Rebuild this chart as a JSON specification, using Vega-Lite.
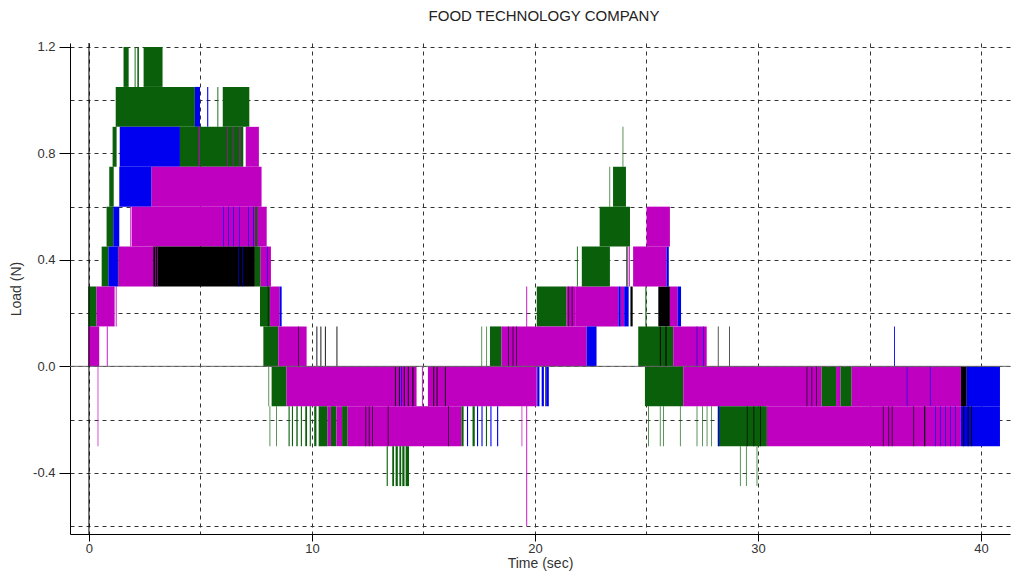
{
  "$schema": "https://vega.github.io/schema/vega-lite/v6.json",
  "width": 940,
  "height": 491,
  "autosize": {"type": "none"},
  "padding": {"left": 70, "top": 43, "right": 2, "bottom": 41},
  "title": {"text": "FOOD TECHNOLOGY COMPANY", "font": "Liberation Sans", "fontSize": 15, "fontWeight": "normal", "color": "#222", "anchor": "middle", "offset": 17, "dx": 4},
  "config": {
    "view": {"stroke": null},
    "axis": {"labelFont": "Liberation Sans", "labelFontSize": 13, "labelColor": "#333", "titleFont": "Liberation Sans", "titleFontSize": 14, "titleFontWeight": "normal", "titleColor": "#333", "domainColor": "#000", "tickColor": "#000", "gridColor": "#333", "gridDash": [4, 4], "gridOpacity": 1, "gridWidth": 1}
  },
  "datasets": {
    "bands": [
      {"s":"G","t0":1.55,"t1":1.78,"lo":1.05,"hi":1.2},
      {"s":"G","t0":2.05,"t1":2.09,"lo":1.05,"hi":1.2},
      {"s":"G","t0":2.17,"t1":2.24,"lo":1.05,"hi":1.2},
      {"s":"G","t0":2.45,"t1":3.3,"lo":1.05,"hi":1.2},
      {"s":"G","t0":1.2,"t1":4.75,"lo":0.9,"hi":1.05},
      {"s":"B","t0":4.75,"t1":4.98,"lo":0.9,"hi":1.05},
      {"s":"B","t0":5.3,"t1":5.35,"lo":0.9,"hi":1.05},
      {"s":"G","t0":5.76,"t1":5.8,"lo":0.9,"hi":1.05},
      {"s":"G","t0":6.0,"t1":7.19,"lo":0.9,"hi":1.05},
      {"s":"G","t0":1.06,"t1":1.24,"lo":0.75,"hi":0.9},
      {"s":"B","t0":1.38,"t1":4.08,"lo":0.75,"hi":0.9},
      {"s":"G","t0":4.08,"t1":6.92,"lo":0.75,"hi":0.9},
      {"s":"M","t0":7.03,"t1":7.62,"lo":0.75,"hi":0.9},
      {"s":"M","t0":4.92,"t1":4.97,"lo":0.75,"hi":0.9},
      {"s":"M","t0":6.2,"t1":6.23,"lo":0.75,"hi":0.9},
      {"s":"M","t0":6.45,"t1":6.48,"lo":0.75,"hi":0.9},
      {"s":"M","t0":6.75,"t1":6.79,"lo":0.75,"hi":0.9},
      {"s":"G","t0":0.91,"t1":1.11,"lo":0.6,"hi":0.75},
      {"s":"B","t0":1.36,"t1":2.81,"lo":0.6,"hi":0.75},
      {"s":"M","t0":2.81,"t1":7.74,"lo":0.6,"hi":0.75},
      {"s":"G","t0":0.79,"t1":1.09,"lo":0.45,"hi":0.6},
      {"s":"B","t0":1.09,"t1":1.36,"lo":0.45,"hi":0.6},
      {"s":"M","t0":1.85,"t1":1.88,"lo":0.45,"hi":0.6},
      {"s":"M","t0":1.91,"t1":7.97,"lo":0.45,"hi":0.6},
      {"s":"B","t0":6.02,"t1":6.05,"lo":0.45,"hi":0.6},
      {"s":"B","t0":6.24,"t1":6.27,"lo":0.45,"hi":0.6},
      {"s":"B","t0":6.47,"t1":6.5,"lo":0.45,"hi":0.6},
      {"s":"B","t0":6.74,"t1":6.77,"lo":0.45,"hi":0.6},
      {"s":"B","t0":7.14,"t1":7.17,"lo":0.45,"hi":0.6},
      {"s":"B","t0":7.37,"t1":7.4,"lo":0.45,"hi":0.6},
      {"s":"G","t0":7.45,"t1":7.55,"lo":0.45,"hi":0.6},
      {"s":"G","t0":0.57,"t1":0.87,"lo":0.3,"hi":0.45},
      {"s":"B","t0":0.87,"t1":1.3,"lo":0.3,"hi":0.45},
      {"s":"K","t0":1.3,"t1":1.33,"lo":0.3,"hi":0.45},
      {"s":"M","t0":1.33,"t1":2.88,"lo":0.3,"hi":0.45},
      {"s":"K","t0":2.88,"t1":7.44,"lo":0.3,"hi":0.45},
      {"s":"M","t0":2.97,"t1":3.0,"lo":0.3,"hi":0.45},
      {"s":"M","t0":3.05,"t1":3.08,"lo":0.3,"hi":0.45},
      {"s":"B","t0":6.7,"t1":6.73,"lo":0.3,"hi":0.45},
      {"s":"B","t0":6.88,"t1":6.91,"lo":0.3,"hi":0.45},
      {"s":"G","t0":7.44,"t1":7.7,"lo":0.3,"hi":0.45},
      {"s":"M","t0":7.7,"t1":8.16,"lo":0.3,"hi":0.45},
      {"s":"B","t0":7.98,"t1":8.01,"lo":0.3,"hi":0.45},
      {"s":"G","t0":-0.03,"t1":0.34,"lo":0.15,"hi":0.3},
      {"s":"M","t0":0.34,"t1":1.15,"lo":0.15,"hi":0.3},
      {"s":"M","t0":1.2,"t1":1.24,"lo":0.15,"hi":0.3},
      {"s":"G","t0":7.67,"t1":8.12,"lo":0.15,"hi":0.3},
      {"s":"K","t0":8.02,"t1":8.05,"lo":0.15,"hi":0.3},
      {"s":"M","t0":8.12,"t1":8.55,"lo":0.15,"hi":0.3},
      {"s":"B","t0":8.55,"t1":8.64,"lo":0.15,"hi":0.3},
      {"s":"G","t0":20.08,"t1":21.42,"lo":0.15,"hi":0.3},
      {"s":"M","t0":21.42,"t1":21.8,"lo":0.15,"hi":0.3},
      {"s":"K","t0":21.5,"t1":21.53,"lo":0.15,"hi":0.3},
      {"s":"K","t0":21.65,"t1":21.68,"lo":0.15,"hi":0.3},
      {"s":"M","t0":21.8,"t1":23.74,"lo":0.15,"hi":0.3},
      {"s":"B","t0":23.74,"t1":23.85,"lo":0.15,"hi":0.3},
      {"s":"M","t0":23.85,"t1":24.0,"lo":0.15,"hi":0.3},
      {"s":"B","t0":24.0,"t1":24.2,"lo":0.15,"hi":0.3},
      {"s":"K","t0":24.28,"t1":24.38,"lo":0.15,"hi":0.3},
      {"s":"G","t0":24.95,"t1":25.0,"lo":0.15,"hi":0.3},
      {"s":"K","t0":25.53,"t1":26.05,"lo":0.15,"hi":0.3},
      {"s":"M","t0":26.05,"t1":26.4,"lo":0.15,"hi":0.3},
      {"s":"B","t0":26.4,"t1":26.55,"lo":0.15,"hi":0.3},
      {"s":"G","t0":21.88,"t1":21.92,"lo":0.3,"hi":0.45},
      {"s":"G","t0":22.1,"t1":23.36,"lo":0.3,"hi":0.45},
      {"s":"K","t0":24.1,"t1":24.15,"lo":0.3,"hi":0.45},
      {"s":"M","t0":24.2,"t1":24.25,"lo":0.3,"hi":0.45},
      {"s":"M","t0":24.4,"t1":25.9,"lo":0.3,"hi":0.45},
      {"s":"B","t0":25.9,"t1":26.0,"lo":0.3,"hi":0.45},
      {"s":"G","t0":22.9,"t1":24.26,"lo":0.45,"hi":0.6},
      {"s":"M","t0":25.0,"t1":26.05,"lo":0.45,"hi":0.6},
      {"s":"G","t0":23.34,"t1":23.37,"lo":0.6,"hi":0.75},
      {"s":"G","t0":23.5,"t1":24.08,"lo":0.6,"hi":0.75},
      {"s":"G","t0":23.93,"t1":23.96,"lo":0.75,"hi":0.9},
      {"s":"M","t0":-0.03,"t1":0.46,"lo":0.0,"hi":0.15},
      {"s":"M","t0":0.8,"t1":0.84,"lo":0.0,"hi":0.15},
      {"s":"G","t0":7.82,"t1":8.49,"lo":0.0,"hi":0.15},
      {"s":"M","t0":8.49,"t1":9.76,"lo":0.0,"hi":0.15},
      {"s":"K","t0":9.39,"t1":9.42,"lo":0.0,"hi":0.15},
      {"s":"K","t0":10.2,"t1":10.24,"lo":0.0,"hi":0.15},
      {"s":"K","t0":10.38,"t1":10.42,"lo":0.0,"hi":0.15},
      {"s":"K","t0":10.58,"t1":10.62,"lo":0.0,"hi":0.15},
      {"s":"K","t0":11.1,"t1":11.14,"lo":0.0,"hi":0.15},
      {"s":"G","t0":17.6,"t1":17.63,"lo":0.0,"hi":0.15},
      {"s":"G","t0":17.82,"t1":17.85,"lo":0.0,"hi":0.15},
      {"s":"G","t0":17.98,"t1":18.5,"lo":0.0,"hi":0.15},
      {"s":"M","t0":18.5,"t1":22.32,"lo":0.0,"hi":0.15},
      {"s":"K","t0":18.8,"t1":18.83,"lo":0.0,"hi":0.15},
      {"s":"K","t0":19.0,"t1":19.03,"lo":0.0,"hi":0.15},
      {"s":"K","t0":19.15,"t1":19.18,"lo":0.0,"hi":0.15},
      {"s":"B","t0":22.32,"t1":22.76,"lo":0.0,"hi":0.15},
      {"s":"G","t0":24.63,"t1":26.2,"lo":0.0,"hi":0.15},
      {"s":"K","t0":25.6,"t1":25.64,"lo":0.0,"hi":0.15},
      {"s":"K","t0":25.85,"t1":25.9,"lo":0.0,"hi":0.15},
      {"s":"M","t0":26.2,"t1":27.7,"lo":0.0,"hi":0.15},
      {"s":"B","t0":27.25,"t1":27.28,"lo":0.0,"hi":0.15},
      {"s":"B","t0":27.55,"t1":27.58,"lo":0.0,"hi":0.15},
      {"s":"K","t0":28.2,"t1":28.23,"lo":0.0,"hi":0.15},
      {"s":"K","t0":28.7,"t1":28.73,"lo":0.0,"hi":0.15},
      {"s":"B","t0":36.1,"t1":36.14,"lo":0.0,"hi":0.15},
      {"s":"G","t0":8.05,"t1":8.08,"lo":-0.15,"hi":0.0},
      {"s":"G","t0":8.19,"t1":8.86,"lo":-0.15,"hi":0.0},
      {"s":"M","t0":8.86,"t1":14.69,"lo":-0.15,"hi":0.0},
      {"s":"K","t0":13.72,"t1":13.76,"lo":-0.15,"hi":0.0},
      {"s":"K","t0":13.9,"t1":13.94,"lo":-0.15,"hi":0.0},
      {"s":"B","t0":14.0,"t1":14.04,"lo":-0.15,"hi":0.0},
      {"s":"K","t0":14.12,"t1":14.16,"lo":-0.15,"hi":0.0},
      {"s":"K","t0":14.3,"t1":14.34,"lo":-0.15,"hi":0.0},
      {"s":"K","t0":14.5,"t1":14.55,"lo":-0.15,"hi":0.0},
      {"s":"M","t0":14.93,"t1":14.97,"lo":-0.15,"hi":0.0},
      {"s":"M","t0":15.2,"t1":20.08,"lo":-0.15,"hi":0.0},
      {"s":"K","t0":15.44,"t1":15.48,"lo":-0.15,"hi":0.0},
      {"s":"K","t0":15.59,"t1":15.63,"lo":-0.15,"hi":0.0},
      {"s":"K","t0":15.96,"t1":16.0,"lo":-0.15,"hi":0.0},
      {"s":"B","t0":20.1,"t1":20.2,"lo":-0.15,"hi":0.0},
      {"s":"B","t0":20.3,"t1":20.4,"lo":-0.15,"hi":0.0},
      {"s":"K","t0":20.45,"t1":20.48,"lo":-0.15,"hi":0.0},
      {"s":"B","t0":20.5,"t1":20.62,"lo":-0.15,"hi":0.0},
      {"s":"G","t0":24.93,"t1":26.65,"lo":-0.15,"hi":0.0},
      {"s":"M","t0":26.65,"t1":32.85,"lo":-0.15,"hi":0.0},
      {"s":"K","t0":32.18,"t1":32.21,"lo":-0.15,"hi":0.0},
      {"s":"K","t0":32.4,"t1":32.43,"lo":-0.15,"hi":0.0},
      {"s":"K","t0":32.6,"t1":32.63,"lo":-0.15,"hi":0.0},
      {"s":"G","t0":32.85,"t1":33.5,"lo":-0.15,"hi":0.0},
      {"s":"M","t0":33.5,"t1":33.7,"lo":-0.15,"hi":0.0},
      {"s":"G","t0":33.7,"t1":34.2,"lo":-0.15,"hi":0.0},
      {"s":"M","t0":34.2,"t1":39.1,"lo":-0.15,"hi":0.0},
      {"s":"B","t0":36.67,"t1":36.7,"lo":-0.15,"hi":0.0},
      {"s":"B","t0":37.71,"t1":37.74,"lo":-0.15,"hi":0.0},
      {"s":"K","t0":39.1,"t1":39.36,"lo":-0.15,"hi":0.0},
      {"s":"B","t0":39.36,"t1":40.85,"lo":-0.15,"hi":0.0},
      {"s":"G","t0":8.1,"t1":8.13,"lo":-0.3,"hi":-0.15},
      {"s":"G","t0":8.4,"t1":8.43,"lo":-0.3,"hi":-0.15},
      {"s":"G","t0":8.95,"t1":9.0,"lo":-0.3,"hi":-0.15},
      {"s":"G","t0":9.1,"t1":9.15,"lo":-0.3,"hi":-0.15},
      {"s":"G","t0":9.3,"t1":9.36,"lo":-0.3,"hi":-0.15},
      {"s":"G","t0":9.5,"t1":9.55,"lo":-0.3,"hi":-0.15},
      {"s":"G","t0":9.7,"t1":9.78,"lo":-0.3,"hi":-0.15},
      {"s":"G","t0":9.9,"t1":9.95,"lo":-0.3,"hi":-0.15},
      {"s":"G","t0":10.1,"t1":10.2,"lo":-0.3,"hi":-0.15},
      {"s":"G","t0":10.3,"t1":10.7,"lo":-0.3,"hi":-0.15},
      {"s":"M","t0":10.7,"t1":10.85,"lo":-0.3,"hi":-0.15},
      {"s":"G","t0":10.85,"t1":11.1,"lo":-0.3,"hi":-0.15},
      {"s":"M","t0":11.1,"t1":11.35,"lo":-0.3,"hi":-0.15},
      {"s":"G","t0":11.35,"t1":11.6,"lo":-0.3,"hi":-0.15},
      {"s":"M","t0":11.6,"t1":16.7,"lo":-0.3,"hi":-0.15},
      {"s":"K","t0":12.4,"t1":12.43,"lo":-0.3,"hi":-0.15},
      {"s":"K","t0":12.55,"t1":12.58,"lo":-0.3,"hi":-0.15},
      {"s":"K","t0":12.7,"t1":12.73,"lo":-0.3,"hi":-0.15},
      {"s":"K","t0":13.4,"t1":13.43,"lo":-0.3,"hi":-0.15},
      {"s":"K","t0":16.1,"t1":16.13,"lo":-0.3,"hi":-0.15},
      {"s":"G","t0":16.7,"t1":16.8,"lo":-0.3,"hi":-0.15},
      {"s":"B","t0":16.95,"t1":17.0,"lo":-0.3,"hi":-0.15},
      {"s":"G","t0":17.2,"t1":17.3,"lo":-0.3,"hi":-0.15},
      {"s":"B","t0":17.4,"t1":17.45,"lo":-0.3,"hi":-0.15},
      {"s":"B","t0":17.6,"t1":17.65,"lo":-0.3,"hi":-0.15},
      {"s":"G","t0":17.8,"t1":17.85,"lo":-0.3,"hi":-0.15},
      {"s":"B","t0":18.0,"t1":18.05,"lo":-0.3,"hi":-0.15},
      {"s":"B","t0":18.3,"t1":18.35,"lo":-0.3,"hi":-0.15},
      {"s":"M","t0":19.4,"t1":19.43,"lo":-0.3,"hi":-0.15},
      {"s":"G","t0":25.07,"t1":25.1,"lo":-0.3,"hi":-0.15},
      {"s":"G","t0":25.6,"t1":25.63,"lo":-0.3,"hi":-0.15},
      {"s":"G","t0":25.74,"t1":25.77,"lo":-0.3,"hi":-0.15},
      {"s":"G","t0":26.5,"t1":26.53,"lo":-0.3,"hi":-0.15},
      {"s":"G","t0":27.25,"t1":27.28,"lo":-0.3,"hi":-0.15},
      {"s":"G","t0":27.5,"t1":27.53,"lo":-0.3,"hi":-0.15},
      {"s":"G","t0":27.7,"t1":27.73,"lo":-0.3,"hi":-0.15},
      {"s":"G","t0":27.9,"t1":27.93,"lo":-0.3,"hi":-0.15},
      {"s":"G","t0":28.2,"t1":30.4,"lo":-0.3,"hi":-0.15},
      {"s":"B","t0":28.2,"t1":28.26,"lo":-0.3,"hi":-0.15},
      {"s":"K","t0":29.5,"t1":29.53,"lo":-0.3,"hi":-0.15},
      {"s":"K","t0":29.8,"t1":29.83,"lo":-0.3,"hi":-0.15},
      {"s":"K","t0":30.1,"t1":30.13,"lo":-0.3,"hi":-0.15},
      {"s":"M","t0":30.4,"t1":39.1,"lo":-0.3,"hi":-0.15},
      {"s":"K","t0":35.6,"t1":35.63,"lo":-0.3,"hi":-0.15},
      {"s":"K","t0":35.85,"t1":35.88,"lo":-0.3,"hi":-0.15},
      {"s":"K","t0":36.0,"t1":36.03,"lo":-0.3,"hi":-0.15},
      {"s":"K","t0":36.97,"t1":37.0,"lo":-0.3,"hi":-0.15},
      {"s":"K","t0":37.45,"t1":37.5,"lo":-0.3,"hi":-0.15},
      {"s":"B","t0":37.94,"t1":37.97,"lo":-0.3,"hi":-0.15},
      {"s":"B","t0":38.16,"t1":38.19,"lo":-0.3,"hi":-0.15},
      {"s":"B","t0":38.39,"t1":38.42,"lo":-0.3,"hi":-0.15},
      {"s":"B","t0":38.61,"t1":38.64,"lo":-0.3,"hi":-0.15},
      {"s":"B","t0":38.83,"t1":38.86,"lo":-0.3,"hi":-0.15},
      {"s":"B","t0":39.1,"t1":40.85,"lo":-0.3,"hi":-0.15},
      {"s":"K","t0":39.2,"t1":39.25,"lo":-0.3,"hi":-0.15},
      {"s":"K","t0":39.4,"t1":39.45,"lo":-0.3,"hi":-0.15},
      {"s":"K","t0":39.55,"t1":39.6,"lo":-0.3,"hi":-0.15},
      {"s":"G","t0":13.35,"t1":13.4,"lo":-0.45,"hi":-0.3},
      {"s":"G","t0":13.6,"t1":13.68,"lo":-0.45,"hi":-0.3},
      {"s":"G","t0":13.75,"t1":13.85,"lo":-0.45,"hi":-0.3},
      {"s":"G","t0":13.92,"t1":14.0,"lo":-0.45,"hi":-0.3},
      {"s":"G","t0":14.05,"t1":14.15,"lo":-0.45,"hi":-0.3},
      {"s":"G","t0":14.2,"t1":14.35,"lo":-0.45,"hi":-0.3},
      {"s":"G","t0":29.19,"t1":29.22,"lo":-0.45,"hi":-0.3},
      {"s":"G","t0":29.46,"t1":29.49,"lo":-0.45,"hi":-0.3},
      {"s":"G","t0":29.94,"t1":29.97,"lo":-0.45,"hi":-0.3},
      {"s":"M","t0":19.61,"t1":19.65,"lo":-0.6,"hi":0.3},
      {"s":"M","t0":0.39,"t1":0.42,"lo":-0.3,"hi":0.0}
    ],
    "zero": [{"v": 0}]
  },
  "layer": [
    {
      "data": {"name": "bands"},
      "mark": {"type": "rect"},
      "encoding": {
        "x": {"field": "t0", "type": "quantitative", "title": "Time (sec)",
          "scale": {"domain": [-0.85, 41.3], "nice": false, "zero": false},
          "axis": {"values": [0, 5, 10, 15, 20, 25, 30, 35, 40], "grid": true, "tickSize": 7, "labelPadding": 1, "titlePadding": 1,
            "labelExpr": "datum.value % 10 === 0 ? datum.label : ''",
            "tickOpacity": {"condition": {"test": "datum.value % 10 === 0", "value": 1}, "value": 0}}},
        "x2": {"field": "t1"},
        "y": {"field": "lo", "type": "quantitative", "title": "Load (N)",
          "scale": {"domain": [-0.63, 1.215], "nice": false, "zero": false},
          "axis": {"values": [-0.6, -0.4, -0.2, 0, 0.2, 0.4, 0.6, 0.8, 1.0, 1.2], "grid": true, "tickSize": 11, "labelPadding": 4, "titlePadding": 9,
            "labelExpr": "abs(datum.value / 0.4 - round(datum.value / 0.4)) < 0.01 ? replace(format(datum.value, '.1f'), '\u2212', '-') : ''",
            "tickOpacity": {"condition": {"test": "abs(datum.value / 0.4 - round(datum.value / 0.4)) < 0.01", "value": 1}, "value": 0}}},
        "y2": {"field": "hi"},
        "color": {"field": "s", "type": "nominal", "legend": null,
          "scale": {"domain": ["G", "B", "M", "K"], "range": ["#0a600a", "#0000f0", "#c000c0", "#000000"]}}
      }
    },
    {
      "data": {"name": "zero"},
      "mark": {"type": "rule", "color": "#666", "strokeWidth": 1},
      "encoding": {"y": {"field": "v", "type": "quantitative", "title": "Load (N)"}}
    },
    {
      "data": {"name": "zero"},
      "mark": {"type": "rule", "color": "#000", "strokeWidth": 1},
      "encoding": {"x": {"field": "v", "type": "quantitative", "title": "Time (sec)"}}
    }
  ]
}
